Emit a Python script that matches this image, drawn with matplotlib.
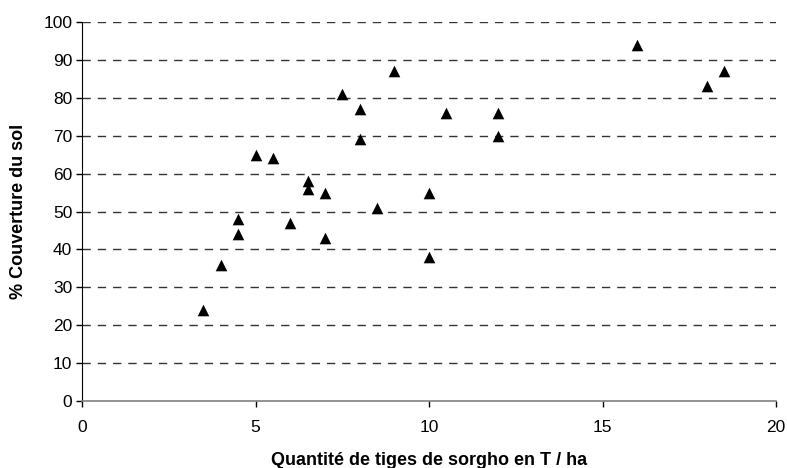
import matplotlib
matplotlib.use("Agg")
import matplotlib.pyplot as plt

tiges = [3.5, 4.0, 4.5, 4.5, 5.0, 5.5, 6.0, 6.5, 6.5, 7.0, 7.0, 7.5, 8.0, 8.0,
         8.5, 9.0, 10.0, 10.0, 10.5, 12.0, 12.0, 16.0, 18.0, 18.5]
couverture = [24, 36, 44, 48, 65, 64, 47, 56, 58, 55, 43, 81, 77, 69,
              51, 87, 55, 38, 76, 76, 70, 94, 83, 87]
x_ticks = [0, 5, 10, 15, 20]
y_ticks = list(range(0, 101, 10))

plt.rcParams['font.family'] = ['Liberation Sans', 'DejaVu Sans']

fig = plt.figure(figsize=(7.87, 4.68), dpi=100)
ax = fig.add_axes([82/787, 1 - 401/468, (776-82)/787, (401-22)/468])

ax.scatter(tiges, couverture, marker='^', s=70, color='black', zorder=3, linewidths=0)

ax.set_xlim(0, 20)
ax.set_ylim(0, 100)
ax.set_xticks(x_ticks)
ax.set_yticks(y_ticks)
ax.tick_params(axis='both', labelsize=12.5, direction='out', length=4, width=1)
ax.tick_params(axis='x', pad=10)
ax.tick_params(axis='y', pad=3)

for y in y_ticks[1:]:
    ax.axhline(y, color='#333333', linewidth=1, dashes=(6, 5), zorder=1)

ax.spines['top'].set_visible(False)
ax.spines['right'].set_visible(False)
ax.spines['left'].set_color('black')
ax.spines['bottom'].set_color('#808080')
ax.spines['bottom'].set_linewidth(1.2)

ax.set_xlabel('Quantité de tiges de sorgho en T / ha', fontsize=13, fontweight='bold', labelpad=12)
ax.set_ylabel('% Couverture du sol', fontsize=13, fontweight='bold', labelpad=12)

fig.savefig('out.png', dpi=100)
